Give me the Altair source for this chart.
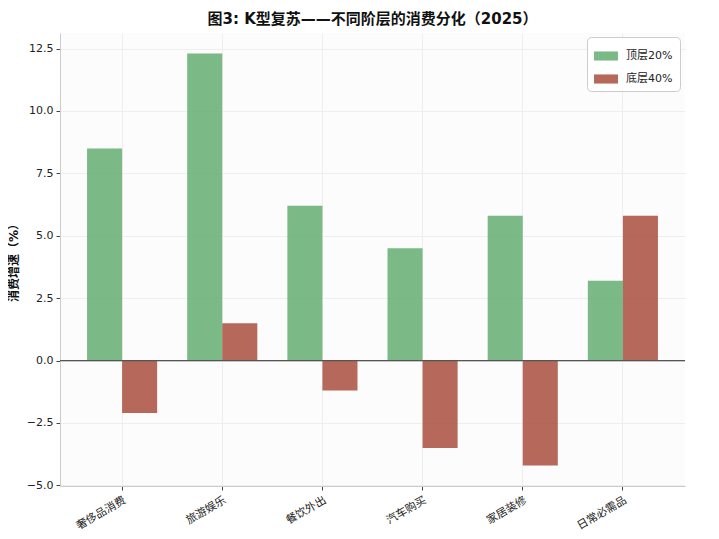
import altair as alt
import pandas as pd

categories = ["奢侈品消费", "旅游娱乐", "餐饮外出", "汽车购买", "家居装修", "日常必需品"]
series_names = ["顶层20%", "底层40%"]
top20 = [8.5, 12.3, 6.2, 4.5, 5.8, 3.2]
bottom40 = [-2.1, 1.5, -1.2, -3.5, -4.2, 5.8]
y_ticks = [-5.0, -2.5, 0.0, 2.5, 5.0, 7.5, 10.0, 12.5]

rows = []
for c, a, b in zip(categories, top20, bottom40):
    rows.append({"category": c, "series": series_names[0], "value": a})
    rows.append({"category": c, "series": series_names[1], "value": b})
df = pd.DataFrame(rows)

FONT = "DejaVu Sans, Noto Sans CJK SC, sans-serif"

legend_sym = "M-1,-0.38L1,-0.38L1,0.38L-1,0.38Z"

bars = alt.Chart(df).mark_bar(opacity=0.85).encode(
    x=alt.X(
        "category:N",
        sort=categories,
        scale=alt.Scale(paddingInner=0.3, paddingOuter=0.27),
        axis=alt.Axis(
            title=None,
            labelAngle=-30,
            labelAlign="right",
            labelBaseline="top",
            labelFontSize=11,
            labelColor="#222",
            labelPadding=4,
            tickColor="#444",
            tickSize=4,
            domainColor="#cccccc",
            grid=True,
            gridColor="#eeeeee",
            bandPosition=0.5,
        ),
    ),
    xOffset=alt.XOffset(
        "series:N",
        sort=series_names,
        scale=alt.Scale(paddingInner=0, paddingOuter=0),
    ),
    y=alt.Y(
        "value:Q",
        scale=alt.Scale(domain=[-5.025, 13.125], nice=False, zero=False),
        axis=alt.Axis(
            title="消费增速（%）",
            titleFontSize=12,
            titleFontWeight="bold",
            titleColor="#111",
            titlePadding=6,
            values=y_ticks,
            format=".1f",
            labelFontSize=11,
            labelColor="#222",
            labelPadding=3,
            tickColor="#444",
            tickSize=4,
            domainColor="#cccccc",
            grid=True,
            gridColor="#eeeeee",
        ),
    ),
    color=alt.Color(
        "series:N",
        sort=series_names,
        scale=alt.Scale(domain=series_names, range=["#64ae72", "#a94f3e"]),
        legend=alt.Legend(
            title=None,
            orient="none",
            legendX=527,
            legendY=4,
            symbolType=legend_sym,
            symbolSize=576,
            symbolOpacity=0.85,
            symbolStrokeWidth=0,
            labelFontSize=11,
            labelColor="#222",
            labelOffset=8,
            rowPadding=6,
            padding=7,
            strokeColor="#cccccc",
            cornerRadius=4,
            fillColor="#ffffff",
        ),
    ),
)

zero = alt.Chart(pd.DataFrame({"y": [0.0]})).mark_rule(color="#555555", strokeWidth=1.2).encode(
    y=alt.Y("y:Q")
)

chart = (
    alt.layer(bars, zero)
    .properties(
        width=625,
        height=453,
        autosize=alt.AutoSizeParams(type="none"),
        padding={"left": 52, "top": 25, "right": 20, "bottom": 50},
        title=alt.Title(
            "图3: K型复苏——不同阶层的消费分化（2025）",
            fontSize=15,
            fontWeight="bold",
            color="#111",
            anchor="middle",
            offset=6,
        ),
    )
    .configure(font=FONT)
    .configure_view(fill="#fcfcfc", stroke=None)
)

chart.save("out.html", embed_options={"renderer": "svg", "actions": False})
